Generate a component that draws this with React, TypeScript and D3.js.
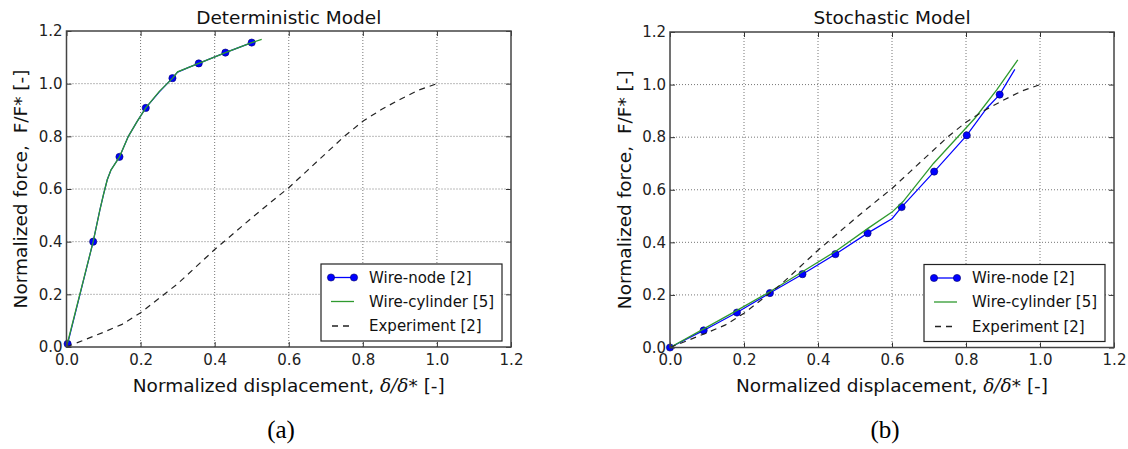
import React, { useEffect, useRef } from "react";
import * as d3 from "d3";

// axis ticks (both panels share the same 0..1.2 range)
const xTicks = [0, 0.2, 0.4, 0.6, 0.8, 1.0, 1.2];
const yTicks = [0, 0.2, 0.4, 0.6, 0.8, 1.0, 1.2];

// (a) Deterministic model
const detNodeLineX = [0.003, 0.072, 0.09, 0.1, 0.11, 0.12, 0.143, 0.167, 0.19, 0.214, 0.25, 0.286, 0.3, 0.33, 0.357, 0.429, 0.5];
const detNodeLineY = [0.012, 0.4, 0.52, 0.58, 0.635, 0.672, 0.722, 0.8, 0.855, 0.908, 0.968, 1.021, 1.044, 1.062, 1.077, 1.118, 1.156];
const detNodeX = [0.003, 0.072, 0.143, 0.214, 0.286, 0.357, 0.429, 0.5];
const detNodeY = [0.012, 0.4, 0.722, 0.908, 1.021, 1.077, 1.118, 1.156];
const detCylX = [0, 0.072, 0.09, 0.1, 0.11, 0.12, 0.143, 0.167, 0.19, 0.214, 0.25, 0.286, 0.3, 0.33, 0.357, 0.429, 0.5, 0.527];
const detCylY = [0, 0.4, 0.52, 0.58, 0.635, 0.672, 0.722, 0.8, 0.855, 0.908, 0.97, 1.02, 1.045, 1.062, 1.077, 1.118, 1.156, 1.168];

// (b) Stochastic model
const stoNodeLineX = [0, 0.091, 0.181, 0.27, 0.358, 0.447, 0.534, 0.6, 0.626, 0.714, 0.802, 0.856, 0.891, 0.932];
const stoNodeLineY = [0, 0.065, 0.133, 0.207, 0.279, 0.355, 0.435, 0.49, 0.534, 0.669, 0.807, 0.91, 0.962, 1.058];
const stoNodeX = [0, 0.091, 0.181, 0.27, 0.358, 0.447, 0.534, 0.626, 0.714, 0.802, 0.891];
const stoNodeY = [0, 0.065, 0.133, 0.207, 0.279, 0.355, 0.435, 0.534, 0.669, 0.807, 0.962];
const stoCylX = [0, 0.09, 0.18, 0.27, 0.36, 0.45, 0.536, 0.6, 0.63, 0.712, 0.824, 0.883, 0.94];
const stoCylY = [0, 0.07, 0.14, 0.212, 0.29, 0.368, 0.454, 0.515, 0.555, 0.7, 0.872, 0.98, 1.094];

// experiment (same in both panels)
const expX = [0, 0.05, 0.1, 0.15, 0.2, 0.25, 0.3, 0.35, 0.4, 0.45, 0.5, 0.55, 0.6, 0.65, 0.7, 0.75, 0.8, 0.85, 0.9, 0.95, 1.0];
const expY = [0, 0.028, 0.056, 0.086, 0.13, 0.185, 0.24, 0.305, 0.37, 0.43, 0.49, 0.548, 0.605, 0.67, 0.735, 0.8, 0.857, 0.902, 0.94, 0.975, 1.0];

const legendLabels = ["Wire-node [2]", "Wire-cylinder [5]", "Experiment [2]"];

const BLUE = "#0000ff";
const GREEN = "#2f9a2f";
const SANS = "DejaVu Sans, sans-serif";

const zip = (xs: number[], ys: number[]) => xs.map((v, i) => [v, ys[i]] as [number, number]);

const panels = [
  {
    title: "Deterministic Model",
    tag: "(a)",
    tagX: 281,
    left: 66.5, right: 511, top: 31, bottom: 347,
    nodeLine: zip(detNodeLineX, detNodeLineY),
    nodeMarks: zip(detNodeX, detNodeY),
    cyl: zip(detCylX, detCylY),
  },
  {
    title: "Stochastic Model",
    tag: "(b)",
    tagX: 885,
    left: 670, right: 1114, top: 32, bottom: 347.5,
    nodeLine: zip(stoNodeLineX, stoNodeLineY),
    nodeMarks: zip(stoNodeX, stoNodeY),
    cyl: zip(stoCylX, stoCylY),
  },
];

const App = () => {
  const ref = useRef<SVGSVGElement>(null);

  useEffect(() => {
    const svg = d3.select(ref.current);
    svg.selectAll("*").remove();

    panels.forEach((p) => {
      const x = d3.scaleLinear().domain([0, 1.2]).range([p.left, p.right]);
      const y = d3.scaleLinear().domain([0, 1.2]).range([p.bottom, p.top]);
      const g = svg.append("g");

      // dotted grid
      g.selectAll(".gx")
        .data(xTicks.slice(1, -1))
        .enter()
        .append("line")
        .attr("x1", (d) => x(d)).attr("x2", (d) => x(d))
        .attr("y1", p.top).attr("y2", p.bottom)
        .attr("stroke", "#666").attr("stroke-width", 0.9)
        .attr("stroke-dasharray", "1,2");
      g.selectAll(".gy")
        .data(yTicks.slice(1, -1))
        .enter()
        .append("line")
        .attr("y1", (d) => y(d)).attr("y2", (d) => y(d))
        .attr("x1", p.left).attr("x2", p.right)
        .attr("stroke", "#666").attr("stroke-width", 0.9)
        .attr("stroke-dasharray", "1,2");

      const line = d3.line<[number, number]>()
        .x((d) => x(d[0]))
        .y((d) => y(d[1]));

      // wire-node
      g.append("path").attr("d", line(p.nodeLine)).attr("fill", "none")
        .attr("stroke", BLUE).attr("stroke-width", 1.2);
      g.selectAll(".mk")
        .data(p.nodeMarks)
        .enter()
        .append("circle")
        .attr("cx", (d) => x(d[0])).attr("cy", (d) => y(d[1]))
        .attr("r", 3.6).attr("fill", BLUE)
        .attr("stroke", "#000066").attr("stroke-width", 0.6);

      // wire-cylinder
      g.append("path").attr("d", line(p.cyl)).attr("fill", "none")
        .attr("stroke", GREEN).attr("stroke-width", 1.3);

      // experiment
      g.append("path").attr("d", line(zip(expX, expY))).attr("fill", "none")
        .attr("stroke", "#222").attr("stroke-width", 1.2)
        .attr("stroke-dasharray", "6,5");

      // axes with inward ticks
      const fmt = d3.format(".1f");
      const styleAxis = (a: any) => {
        a.select(".domain").remove();
        a.selectAll("line").attr("stroke", "#333").attr("stroke-width", 1);
        a.selectAll("text").attr("font-family", SANS).attr("font-size", 15).attr("fill", "#222");
      };
      g.append("g").attr("transform", `translate(0,${p.bottom})`)
        .call(d3.axisBottom(x).tickValues(xTicks).tickFormat(fmt as any).tickSize(-5).tickPadding(7))
        .call(styleAxis);
      g.append("g").attr("transform", `translate(${p.left},0)`)
        .call(d3.axisLeft(y).tickValues(yTicks).tickFormat(fmt as any).tickSize(-5).tickPadding(4))
        .call(styleAxis);
      g.append("g").attr("transform", `translate(0,${p.top})`)
        .call(d3.axisTop(x).tickValues(xTicks).tickFormat(() => "").tickSize(-5))
        .call(styleAxis);
      g.append("g").attr("transform", `translate(${p.right},0)`)
        .call(d3.axisRight(y).tickValues(yTicks).tickFormat(() => "").tickSize(-5))
        .call(styleAxis);

      // frame
      g.append("rect")
        .attr("x", p.left).attr("y", p.top)
        .attr("width", p.right - p.left).attr("height", p.bottom - p.top)
        .attr("fill", "none").attr("stroke", "#444").attr("stroke-width", 1.5);

      // title
      g.append("text")
        .attr("x", (p.left + p.right) / 2).attr("y", 24)
        .attr("text-anchor", "middle")
        .attr("font-family", SANS).attr("font-size", 18.5).attr("fill", "#111")
        .text(p.title);

      // x label
      const xl = g.append("text")
        .attr("x", (p.left + p.right) / 2).attr("y", 392)
        .attr("text-anchor", "middle")
        .attr("font-family", SANS).attr("font-size", 18.5).attr("fill", "#111");
      xl.append("tspan").text("Normalized displacement, ");
      xl.append("tspan").attr("font-family", "DejaVu Serif, serif").attr("font-style", "italic").text("δ/δ");
      xl.append("tspan").text("* [-]");

      // y label
      g.append("text")
        .attr("transform", `translate(${p.left - 39.5},${(p.top + p.bottom) / 2}) rotate(-90)`)
        .attr("text-anchor", "middle")
        .attr("font-family", SANS).attr("font-size", 18.5).attr("fill", "#111")
        .attr("xml:space", "preserve")
        .text("Normalized force,  F/F* [-]");

      // legend
      const lw = 181, lh = 77;
      const lg = g.append("g")
        .attr("transform", `translate(${p.right - 9 - lw},${p.bottom - 6 - lh})`);
      lg.append("rect").attr("width", lw).attr("height", lh)
        .attr("fill", "#fff").attr("stroke", "#222").attr("stroke-width", 1.2);
      const rows = [13.5, 37.5, 62];
      legendLabels.forEach((lab, i) => {
        const ry = rows[i];
        const h = lg.append("line").attr("x1", 10).attr("x2", 33)
          .attr("y1", ry).attr("y2", ry).attr("stroke-width", 1.3);
        if (i === 0) {
          h.attr("stroke", BLUE);
          [10, 33].forEach((cx) =>
            lg.append("circle").attr("cx", cx).attr("cy", ry).attr("r", 3.6)
              .attr("fill", BLUE).attr("stroke", "#000066").attr("stroke-width", 0.6));
        } else if (i === 1) {
          h.attr("stroke", GREEN);
        } else {
          h.attr("stroke", "#222").attr("stroke-dasharray", "6,5").attr("x1", 11);
        }
        lg.append("text").attr("x", 48).attr("y", ry).attr("dy", "0.36em")
          .attr("font-family", SANS).attr("font-size", 15).attr("fill", "#111")
          .text(lab);
      });

      // panel tag
      g.append("text")
        .attr("x", p.tagX).attr("y", 438)
        .attr("text-anchor", "middle")
        .attr("font-family", "Liberation Serif, Times New Roman, serif")
        .attr("font-size", 25).attr("fill", "#000")
        .text(p.tag);
    });
  }, []);

  return (
    <svg
      ref={ref}
      width={1128}
      height={449}
      style={{ position: "absolute", left: 0, top: 0, background: "#fff" }}
    />
  );
};

export default App;
